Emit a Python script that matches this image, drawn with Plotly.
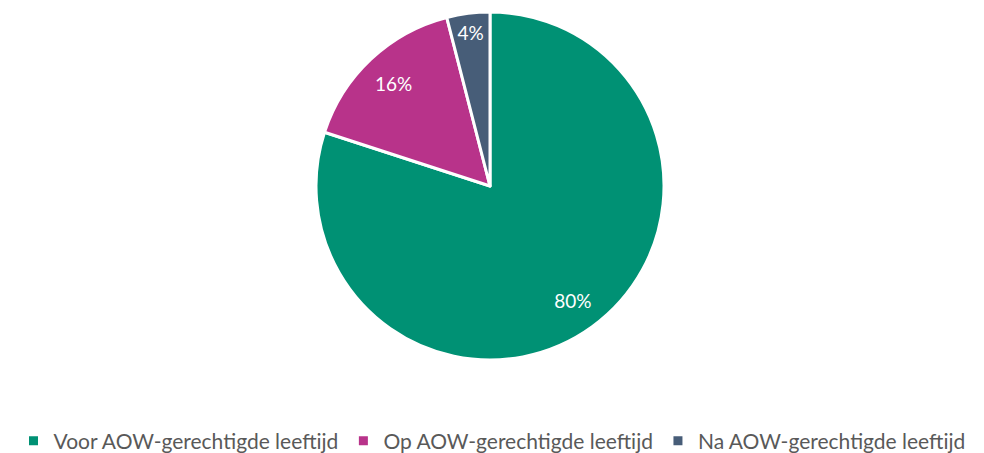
import plotly.graph_objects as go

categories = ["Voor AOW-gerechtigde leeftijd", "Op AOW-gerechtigde leeftijd", "Na AOW-gerechtigde leeftijd"]
values = [80, 16, 4]
colors = ["#009174", "#B8338A", "#475D78"]

dom = dict(x=[316 / 984, 664 / 984], y=[(453 - 360) / 453, (453 - 12) / 453])

fig = go.Figure()
fig.add_trace(go.Pie(
    labels=categories,
    values=values,
    sort=False,
    direction="clockwise",
    rotation=0,
    marker=dict(colors=colors, line=dict(color="white", width=3)),
    textinfo="none",
    domain=dom,
    hoverinfo="label+percent",
))
# label layer: same slices, transparent, text placed in outer ring
fig.add_trace(go.Pie(
    labels=categories,
    values=values,
    sort=False,
    direction="clockwise",
    rotation=0,
    hole=0.62,
    marker=dict(colors=["rgba(0,0,0,0)"] * 3, line=dict(width=0)),
    texttemplate="%{percent:.0%}",
    textposition="inside",
    insidetextorientation="horizontal",
    textfont=dict(color="white", size=19, family="Lato"),
    domain=dom,
    showlegend=False,
    hoverinfo="skip",
))

fig.update_layout(
    width=984, height=453,
    margin=dict(l=0, r=0, t=0, b=0, autoexpand=False),
    paper_bgcolor="white",
    plot_bgcolor="white",
    font=dict(family="Lato", color="#595959"),
    legend=dict(
        orientation="h",
        x=0.5, xanchor="center",
        y=12 / 453, yanchor="middle",
        font=dict(size=21, color="#595959", family="Lato"),
        itemclick=False,
    ),
    showlegend=True,
)

fig.write_html(
    "out.html",
    config={"displayModeBar": False},
    post_script="document.body.style.margin='0';document.body.style.overflow='hidden';",
)
